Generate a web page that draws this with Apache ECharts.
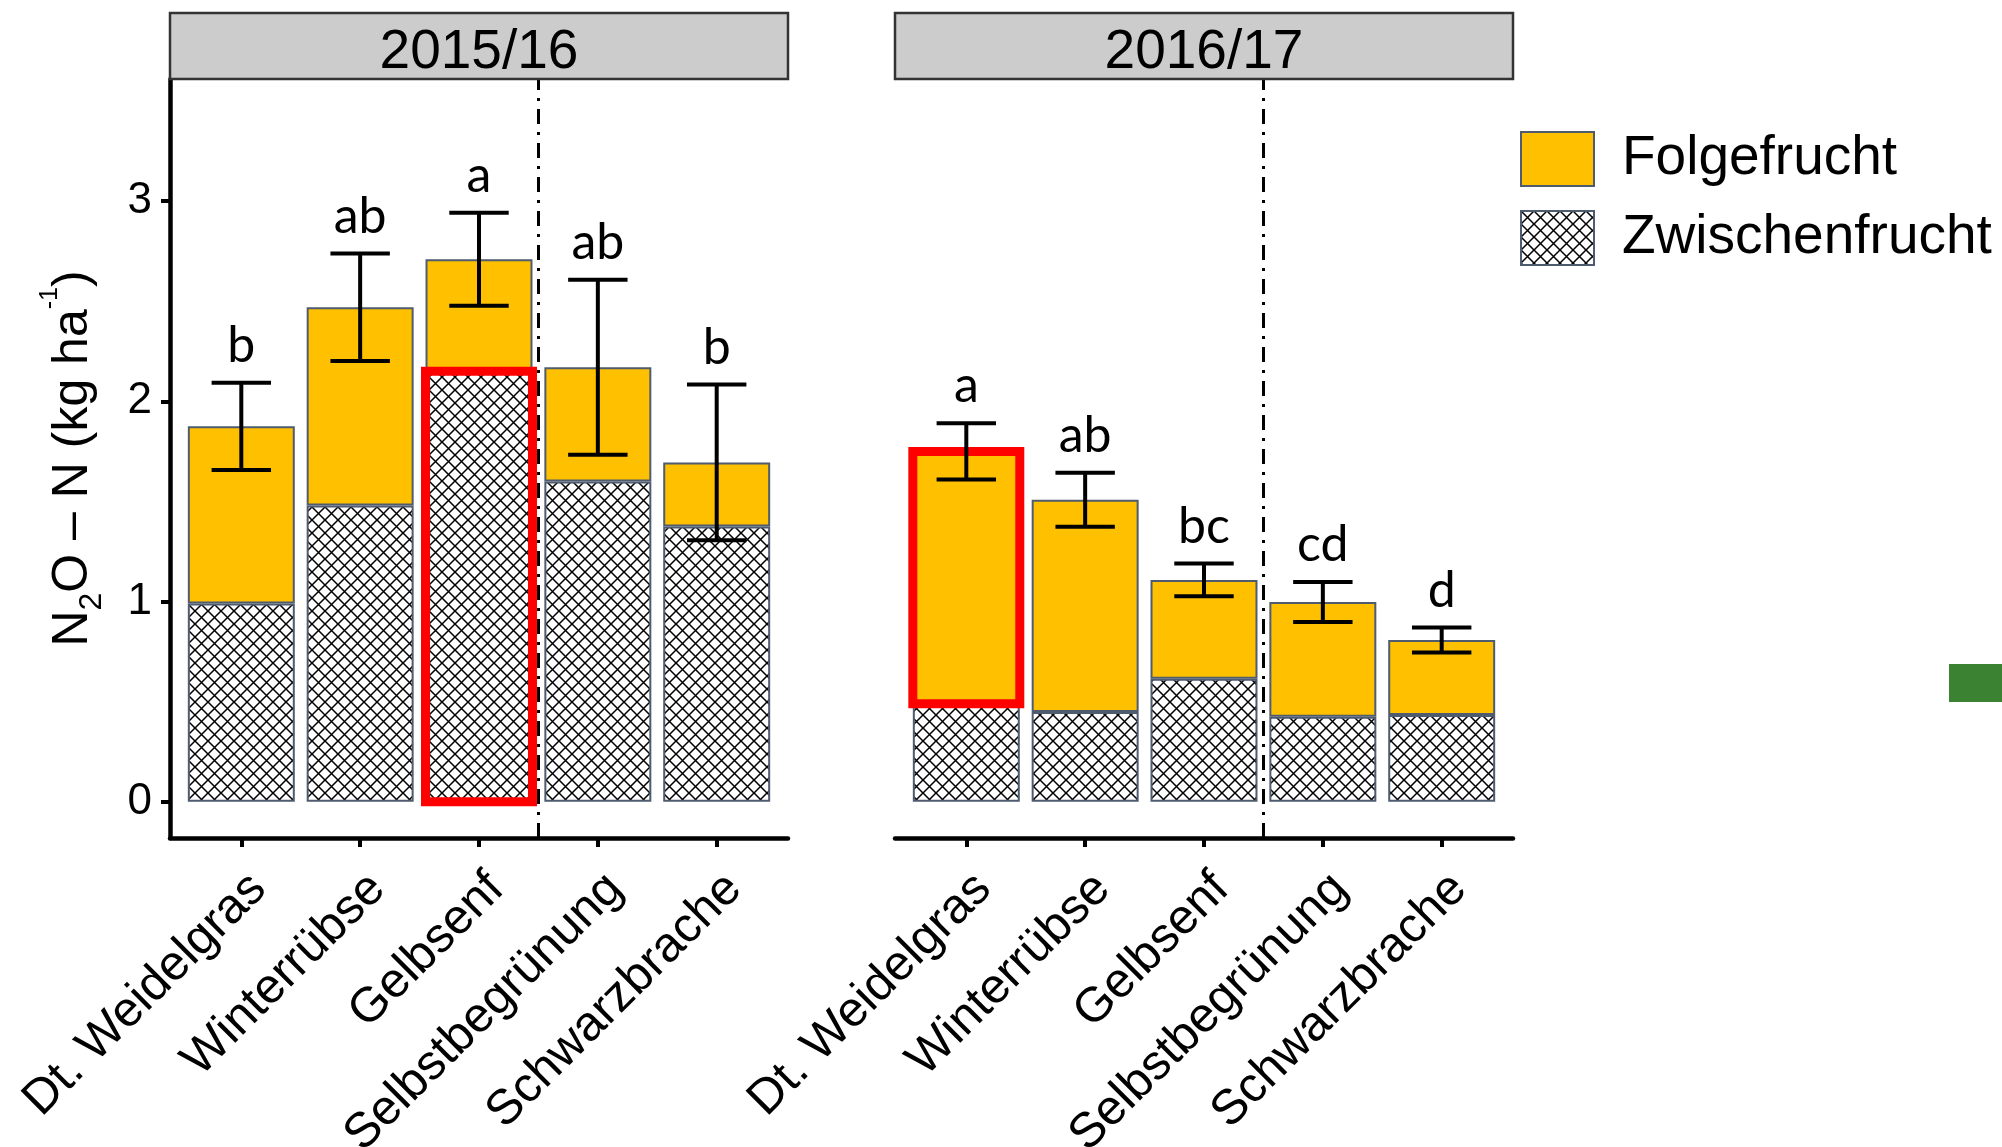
<!DOCTYPE html>
<html>
<head>
<meta charset="utf-8">
<script src="https://cdn.jsdelivr.net/npm/echarts@6/dist/echarts.min.js"></script>
<style>
  html, body { margin: 0; padding: 0; background: #fff; }
  #chart { width: 2002px; height: 1147px; }
</style>
</head>
<body>
<div id="chart"></div>
<script>
// ---- data ----
const categories = ['Dt. Weidelgras', 'Winterrübse', 'Gelbsenf', 'Selbstbegrünung', 'Schwarzbrache'];
const seasons = ['2015/16', '2016/17'];

// N2O-N (kg ha-1) during the catch crop period (Zwischenfrucht) and the following crop (Folgefrucht)
const zwischen1516 = [0.99, 1.48, 2.15, 1.60, 1.375];
const folge1516    = [0.885, 0.99, 0.56, 0.57, 0.32];
const se1516       = [0.218, 0.269, 0.232, 0.437, 0.389];
const letters1516  = ['b', 'ab', 'a', 'ab', 'b'];

const zwischen1617 = [0.49, 0.448, 0.614, 0.425, 0.433];
const folge1617    = [1.26, 1.06, 0.494, 0.573, 0.375];
const se1617       = [0.14, 0.135, 0.082, 0.10, 0.062];
const letters1617  = ['a', 'ab', 'bc', 'cd', 'd'];

const yTicks = [0, 1, 2, 3];

// outlined segment per season: [category index, part]
const highlight1516 = [2, 'Zwischenfrucht'];
const highlight1617 = [0, 'Folgefrucht'];

// ---- layout ----
const PANEL_LEFT = [170, 895];
const PANEL_W = 618;
const PANEL_TOP = 79;
const PANEL_H = 759;
const STRIP_TOP = 13;
const X_MIN = 0.4, X_MAX = 5.6;     // discrete scale with 0.6 padding each side
const BAND = PANEL_W / (X_MAX - X_MIN);
const Y_MIN = -0.181, Y_MAX = 3.61;
const BAR_FRAC = 0.9;
const FONT = "'Liberation Sans', Arial, sans-serif";
const ORANGE = '#FFC000';
const OUTLINE = '#4f5b6e';

// diamond cross-hatch tile
function hatchTile() {
  const s = 13;
  const c = document.createElement('canvas');
  c.width = s; c.height = s;
  const g = c.getContext('2d');
  g.fillStyle = '#fff';
  g.fillRect(0, 0, s, s);
  g.strokeStyle = '#000';
  g.lineWidth = 1.5;
  g.beginPath();
  g.moveTo(-2, -2); g.lineTo(s + 2, s + 2);
  g.moveTo(s + 2, -2); g.lineTo(-2, s + 2);
  g.stroke();
  return c;
}
const HATCH = { image: hatchTile(), repeat: 'repeat' };

const panels = [
  { zw: zwischen1516, fo: folge1516, se: se1516, letters: letters1516, hl: highlight1516 },
  { zw: zwischen1617, fo: folge1617, se: se1617, letters: letters1617, hl: highlight1617 }
];

const grids = [], xAxes = [], yAxes = [], series = [];
const NP = panels.length;

// grids 0..NP-1: visible panel axes (value scale on x)
// grids NP..2NP-1: category band layout for the stacked bars, same vertical scale
panels.forEach((pd, p) => {
  grids[p] = { left: PANEL_LEFT[p], top: PANEL_TOP, width: PANEL_W, height: PANEL_H, outerBoundsMode: 'none' };
  grids[NP + p] = {
    left: PANEL_LEFT[p] + (1 - X_MIN - 0.5) * BAND, top: PANEL_TOP,
    width: categories.length * BAND, height: PANEL_H, outerBoundsMode: 'none'
  };

  xAxes[p] = {
    gridIndex: p, type: 'value', min: X_MIN, max: X_MAX,
    splitLine: { show: false },
    axisLine: { show: true, onZero: false, lineStyle: { color: '#000', width: 4.5 } },
    axisTick: { show: true, customValues: categories.map((c, i) => i + 1), length: 9, lineStyle: { color: '#000', width: 4 } },
    axisLabel: {
      customValues: categories.map((c, i) => i + 1),
      formatter: v => categories[Math.round(v) - 1] || '',
      rotate: 45, align: 'right', verticalAlign: 'top',
      margin: 26,
      fontSize: 49, fontFamily: FONT, color: '#000'
    }
  };
  xAxes[NP + p] = { gridIndex: NP + p, type: 'category', data: categories, show: false };

  yAxes[p] = {
    gridIndex: p, type: 'value', min: Y_MIN, max: Y_MAX, show: p === 0,
    splitLine: { show: false },
    axisLine: { show: true, onZero: false, lineStyle: { color: '#000', width: 4.5 } },
    axisTick: { show: true, customValues: yTicks, length: 9, lineStyle: { color: '#000', width: 4 } },
    axisLabel: { customValues: yTicks, fontSize: 44, fontFamily: FONT, color: '#000', margin: 18 },
    name: p === 0 ? '{n|N}{s|2}{n|O \u2013 N (kg ha}{p|-1}{n|)}' : '',
    nameLocation: 'middle', nameGap: 62, nameRotate: 90,
    nameTextStyle: {
      color: '#000', fontFamily: FONT,
      rich: {
        n: { fontSize: 50, lineHeight: 70, fontFamily: FONT, color: '#000' },
        s: { fontSize: 32, lineHeight: 36, verticalAlign: 'bottom', fontFamily: FONT, color: '#000' },
        p: { fontSize: 25, lineHeight: 44, verticalAlign: 'top', fontFamily: FONT, color: '#000' }
      }
    }
  };
  yAxes[NP + p] = { gridIndex: NP + p, type: 'value', min: Y_MIN, max: Y_MAX, show: false, splitLine: { show: false } };

  const totals = pd.zw.map((z, i) => z + pd.fo[i]);

  series.push({
    type: 'bar', name: 'Zwischenfrucht', xAxisIndex: NP + p, yAxisIndex: NP + p, stack: 'season' + p,
    barWidth: (BAR_FRAC * 100) + '%', z: 2,
    itemStyle: { color: HATCH, borderColor: OUTLINE, borderWidth: 2 },
    data: pd.zw
  });

  series.push({
    type: 'bar', name: 'Folgefrucht', xAxisIndex: NP + p, yAxisIndex: NP + p, stack: 'season' + p,
    barWidth: (BAR_FRAC * 100) + '%', z: 2,
    itemStyle: { color: ORANGE, borderColor: OUTLINE, borderWidth: 2 },
    data: pd.fo
  });

  // red outline around one segment, plus the dash-dot divider between groups
  const hi = pd.hl[0];
  const lo = pd.hl[1] === 'Zwischenfrucht' ? 0 : pd.zw[hi];
  const up = pd.hl[1] === 'Zwischenfrucht' ? pd.zw[hi] : totals[hi];
  series.push({
    type: 'custom', xAxisIndex: p, yAxisIndex: p, z: 4, silent: true,
    data: [[hi + 1, lo, up]],
    renderItem(params, api) {
      const a = api.coord([api.value(0), api.value(1)]);
      const b = api.coord([api.value(0), api.value(2)]);
      const w = api.size([BAR_FRAC, 0])[0];
      return {
        type: 'rect',
        shape: { x: a[0] - w / 2, y: b[1], width: w, height: a[1] - b[1] },
        style: { fill: 'none', stroke: '#ff0000', lineWidth: 9 }
      };
    },
    markLine: {
      silent: true, symbol: 'none',
      label: { show: false },
      lineStyle: { color: '#000', width: 3, type: [15, 8, 3, 8] },
      data: [{ xAxis: 3.5 }]
    }
  });

  // error bars with significance letters
  const letters = pd.letters;
  series.push({
    type: 'custom', xAxisIndex: p, yAxisIndex: p, z: 5, silent: true,
    data: totals.map((t, i) => [i + 1, t - pd.se[i], t + pd.se[i]]),
    renderItem(params, api) {
      const x = api.value(0);
      const lo = api.coord([x, api.value(1)]);
      const hi = api.coord([x, api.value(2)]);
      const half = api.size([0.5, 0])[0] / 2;
      const st = { stroke: '#000', lineWidth: 4 };
      return {
        type: 'group',
        children: [
          { type: 'line', shape: { x1: lo[0], y1: lo[1], x2: hi[0], y2: hi[1] }, style: st },
          { type: 'line', shape: { x1: hi[0] - half, y1: hi[1], x2: hi[0] + half, y2: hi[1] }, style: st },
          { type: 'line', shape: { x1: lo[0] - half, y1: lo[1], x2: lo[0] + half, y2: lo[1] }, style: st },
          {
            type: 'text', x: hi[0], y: hi[1] - 12,
            style: {
              text: letters[params.dataIndex], fontSize: 50, fontFamily: 'Lato, "Open Sans", sans-serif',
              fill: '#000', align: 'center', verticalAlign: 'bottom'
            }
          }
        ]
      };
    }
  });
});

// facet strips
const graphics = [];
seasons.forEach((s, p) => {
  graphics.push({
    type: 'rect', z: 10,
    shape: { x: PANEL_LEFT[p], y: STRIP_TOP, width: PANEL_W, height: PANEL_TOP - STRIP_TOP },
    style: { fill: '#cccccc', stroke: '#333333', lineWidth: 2.5 }
  });
  graphics.push({
    type: 'text', z: 11,
    x: PANEL_LEFT[p] + PANEL_W / 2, y: (STRIP_TOP + PANEL_TOP) / 2 + 7,
    style: { text: s, fontSize: 55, fontFamily: FONT, fill: '#000', align: 'center', verticalAlign: 'middle' }
  });
});
graphics.push({
  type: 'rect', z: 10,
  shape: { x: 1949, y: 664, width: 53, height: 38 },
  style: { fill: '#3b8232' }
});

const chart = echarts.init(document.getElementById('chart'), null, { renderer: 'canvas' });
chart.setOption({
  animation: false,
  backgroundColor: '#ffffff',
  textStyle: { fontFamily: FONT },
  grid: grids,
  xAxis: xAxes,
  yAxis: yAxes,
  legend: {
    data: ['Folgefrucht', 'Zwischenfrucht'],
    orient: 'vertical', left: 1515, top: 126,
    itemWidth: 73, itemHeight: 54, itemGap: 23,
    icon: 'rect', selectedMode: false,
    textStyle: { fontSize: 55, lineHeight: 55, fontFamily: FONT, color: '#000', padding: [0, 0, 0, 23] }
  },
  series: series,
  graphic: graphics
});
</script>
</body>
</html>
